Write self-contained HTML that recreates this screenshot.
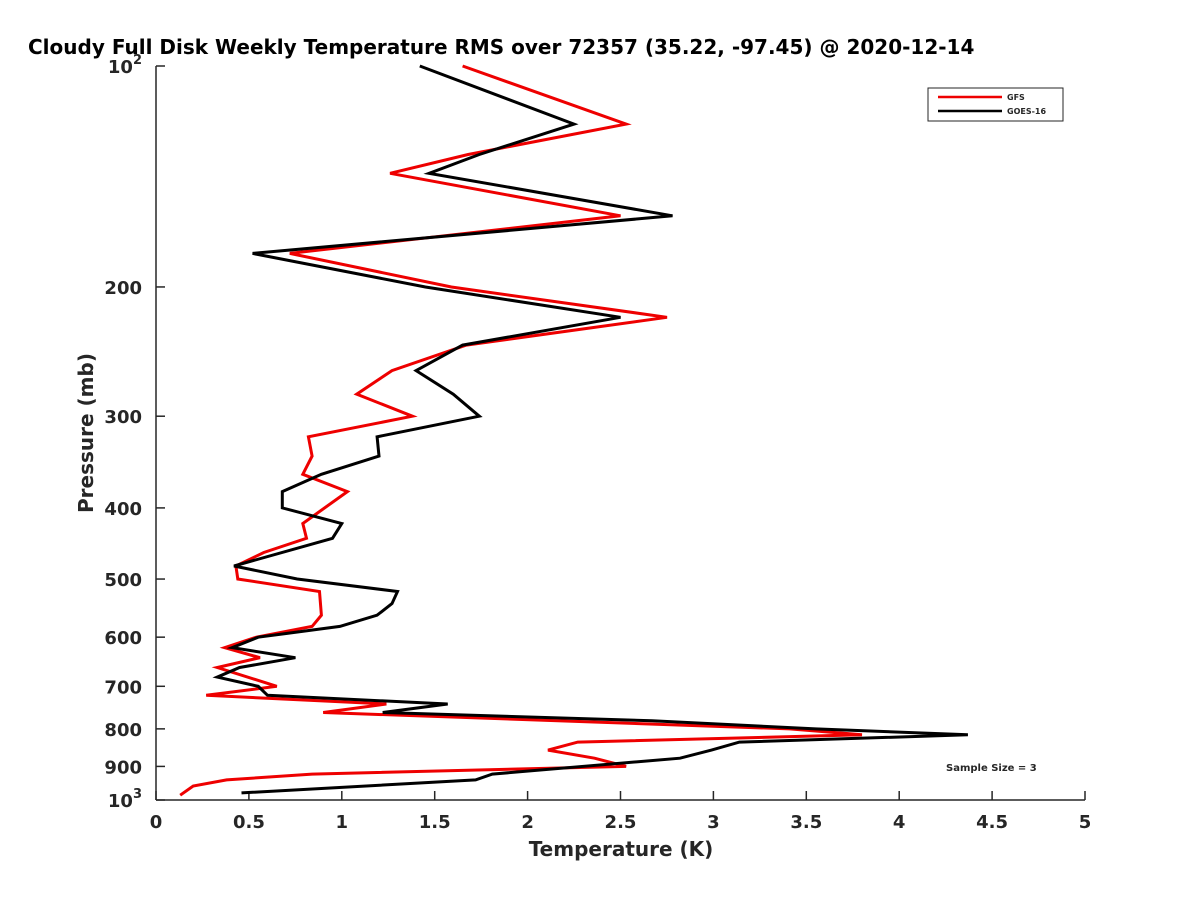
<!DOCTYPE html>
<html><head><meta charset="utf-8"><style>
body{margin:0;background:#fff;}
svg text{font-family:"DejaVu Sans","Liberation Sans",sans-serif;font-weight:bold;fill:#262626;}
</style></head><body>
<svg id="chart" width="1200" height="900" xmlns="http://www.w3.org/2000/svg">
<rect width="1200" height="900" fill="#fff"/>
<text x="28" y="54" font-size="20" fill="#000" style="fill:#000">Cloudy Full Disk Weekly Temperature RMS over 72357 (35.22, -97.45) @ 2020-12-14</text>
<g id="axes"></g>
<g id="series"></g>
<g>
<rect x="928" y="88" width="135" height="33" fill="#fff" stroke="#262626" stroke-width="1"/>
<line x1="938" y1="97" x2="1002" y2="97" stroke="#e00" stroke-width="2.5"/>
<text x="1007" y="100" font-size="8">GFS</text>
<line x1="938" y1="111" x2="1002" y2="111" stroke="#000" stroke-width="2.5"/>
<text x="1007" y="114" font-size="8">GOES-16</text>
</g>
<text x="946" y="771" font-size="10">Sample Size = 3</text>
<text x="621" y="856" font-size="20" text-anchor="middle">Temperature (K)</text>
<text transform="translate(93,433) rotate(-90)" font-size="20" text-anchor="middle">Pressure (mb)</text>
</svg>
<script>
const xTicks=[0,0.5,1,1.5,2,2.5,3,3.5,4,4.5,5];
const yTicks=[100,200,300,400,500,600,700,800,900,1000];
const goesP=[100,120,132,140,160,180,200,220,240,260,280,300,320,340,360,380,400,420,440,480,500,520,540,560,580,600,620,640,660,680,700,720,740,760,780,800,815,834,855,877,922,939,978];
const goesT=[1.42,2.25,1.74,1.47,2.78,0.52,1.45,2.5,1.65,1.4,1.6,1.74,1.19,1.2,0.89,0.68,0.68,1.0,0.95,0.42,0.76,1.3,1.27,1.19,0.99,0.55,0.41,0.75,0.45,0.33,0.55,0.6,1.57,1.22,2.67,3.55,4.37,3.14,2.99,2.82,1.81,1.72,0.46];
const gfsP=[100,120,132,140,160,180,200,220,240,260,280,300,320,340,360,380,420,440,460,480,500,520,560,580,600,620,640,660,700,720,740,760,800,815,834,855,877,900,922,939,957,985];
const gfsT=[1.65,2.53,1.68,1.26,2.5,0.72,1.59,2.75,1.67,1.27,1.08,1.38,0.82,0.84,0.79,1.03,0.79,0.81,0.58,0.43,0.44,0.88,0.89,0.84,0.54,0.37,0.56,0.33,0.65,0.27,1.24,0.9,3.41,3.8,2.27,2.11,2.36,2.53,0.84,0.38,0.2,0.13];
const X0=156,X1=1085,Y0=66,Y1=800;
const sx=v=>X0+(v-0)/(5-0)*(X1-X0);
const sy=p=>Y0+Math.log10(p/100)*(Y1-Y0);
const NS="http://www.w3.org/2000/svg";
const axes=document.getElementById('axes');
function mk(tag,attrs,parent){const e=document.createElementNS(NS,tag);for(const k in attrs)e.setAttribute(k,attrs[k]);parent.appendChild(e);return e;}
const yl=mk('line',{x1:X0,y1:Y0,x2:X0,y2:Y1,stroke:'#262626','stroke-width':1.5},axes);


const xl=mk('line',{x1:X0,y1:Y1,x2:X1,y2:Y1,stroke:'#262626','stroke-width':1.5},axes);


xTicks.forEach(t=>{
  const l=mk('line',{x1:sx(t),y1:Y1,x2:sx(t),y2:Y1-9,stroke:'#262626','stroke-width':1.5},axes);
  
  
  const tx=mk('text',{x:sx(t),y:Y1+28,'font-size':18,'text-anchor':'middle'},axes);
  tx.textContent=String(t);
  
  
});
yTicks.forEach(p=>{
  const l=mk('line',{x1:X0,y1:sy(p),x2:X0+9,y2:sy(p),stroke:'#262626','stroke-width':1.5},axes);
  
  
  const tx=mk('text',{x:X0-14,y:sy(p)+7,'font-size':18,'text-anchor':'end'},axes);
  if(p===100){tx.innerHTML='10<tspan dy="-9" font-size="13">2</tspan>';}
  else if(p===1000){tx.innerHTML='10<tspan dy="-9" font-size="13">3</tspan>';}
  else tx.textContent=String(p);
  
  
});
const series=document.getElementById('series');
function line(P,T,color,name){
  const d=P.map((p,i)=>(i?'L':'M')+sx(T[i]).toFixed(1)+','+sy(p).toFixed(1)).join('');
  const e=mk('path',{d:d,fill:'none',stroke:color,'stroke-width':3,'stroke-linejoin':'miter'},series);
  
  
}
line(gfsP,gfsT,'#e00','gfs-line');
line(goesP,goesT,'#000','goes16-line');
</script>
</body></html>
